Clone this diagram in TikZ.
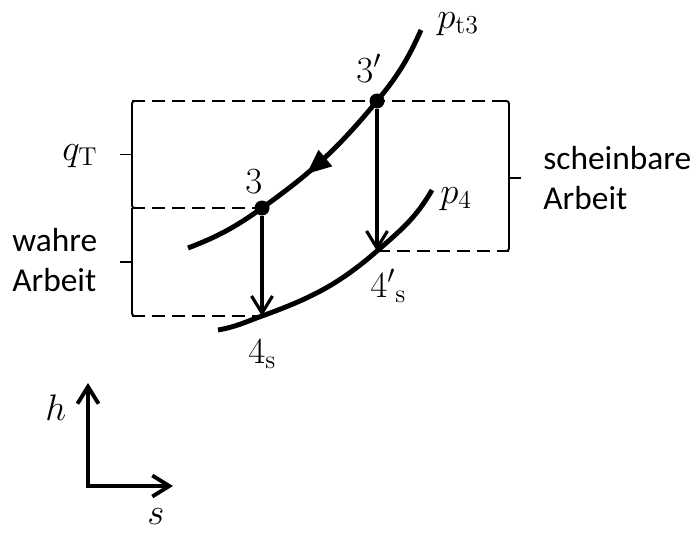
\RequirePackage{fix-cm}
\documentclass[tikz,border=0pt]{standalone}
\usepackage[no-math]{fontspec}
\newfontfamily\carlito{Carlito}
\usepackage{tikz}
\usetikzlibrary{arrows.meta, decorations.markings}

\begin{document}
\begin{tikzpicture}[
  >={Straight Barb[length=3.4mm,width=4.2mm]},
  curve/.style={line width=2.8pt},
  drop/.style={->, line width=1.8pt},
  axis/.style={<->, line width=2.2pt},
  guide/.style={dash pattern=on 2.6mm off 1.4mm, line width=1.3pt},
  bracket/.style={line width=1.1pt, rounded corners=1.5pt},
  dot/.style={circle, fill, inner sep=0pt, minimum size=3mm},
  lbl/.style={font=\fontsize{21}{25}\selectfont, inner sep=0pt, anchor=base west},
  txt/.style={font=\carlito\fontsize{19}{23}\selectfont, align=left, inner sep=0pt, anchor=west},
  flow/.style={postaction={decorate}, decoration={markings,
    mark=at position 0.57 with {\arrow{Triangle[length=5mm,width=4mm]}}}}
]
\useasboundingbox (0,0) rectangle (13.92,10.64);

% State points
\node[dot] (p3) at (5.24,6.48) {};
\node[dot] (p3s) at (7.54,8.62) {};
\coordinate (s4) at (5.24,4.32);
\coordinate (s4p) at (7.54,5.62);

% Isobar ends
\coordinate (u0) at (3.76,5.68);
\coordinate (u1) at (8.42,10.04);
\coordinate (l0) at (4.36,4.04);
\coordinate (l1) at (8.64,6.84);

% Bracket corners
\coordinate (bl1) at (2.64,8.62);
\coordinate (bl2) at (2.64,6.48);
\coordinate (bl3) at (2.64,4.32);
\coordinate (br1) at (10.18,8.62);
\coordinate (br2) at (10.18,5.62);

% Dashed levels
\draw[guide] (bl1) -- (br1);
\draw[guide] (bl2) -- (p3.center);
\draw[guide] (bl3) -- (s4);
\draw[guide] (s4p) -- (br2);

% Brackets
\draw[bracket] ([xshift=0.8mm]bl1) -| (bl2) -- ([xshift=0.8mm]bl2);
\draw[bracket] (2.64,7.55) -- (2.40,7.55);
\draw[bracket] (bl2) |- ([xshift=0.8mm]bl3);
\draw[bracket] (2.64,5.40) -- (2.40,5.40);
\draw[bracket] ([xshift=-0.8mm]br1) -| (br2) -- ([xshift=-0.8mm]br2);
\draw[bracket] (10.18,7.08) -- (10.42,7.08);

% Isobars
\draw[curve, flow] (u1) to[out=246,in=50.5] (p3s.center)
  to[out=230.5,in=35.5] (p3.center) to[out=215.5,in=21] (u0);
\draw[curve] (l0) to[out=10,in=200] (s4)
  to[out=20,in=221] (s4p) to[out=41,in=240] (l1);

% Isentropic expansion
\draw[drop] (p3) -- (s4);
\draw[drop] (p3s) -- (s4p);

% Labels
\node[lbl] (lpt3) at (8.74,10.08) {$p_{\mathrm{t3}}$};
\node[lbl] (l3s) at (7.12,9.00) {$3'$};
\node[lbl] (l3) at (4.90,6.78) {$3$};
\node[lbl] (lp4) at (8.80,6.58) {$p_4$};
\node[lbl] (l4s) at (4.96,3.38) {$4_{\mathrm{s}}$};
\node[lbl] (l4sp) at (7.40,4.70) {${4'}_{\mathrm{s}}$};
\node[lbl] (lq) at (1.24,7.44) {$q_{\mathrm{T}}$};
\node[txt] (wahre) at (0.24,5.44) {wahre\\Arbeit};
\node[txt] (schein) at (10.86,7.08) {scheinbare\\Arbeit};

% h-s axes
\coordinate (o) at (1.76,0.92);
\draw[axis] ([yshift=2.06cm]o) |- ([xshift=1.70cm]o);
\node[lbl] (lh) at (0.90,2.24) {$h$};
\node[lbl] (ls) at (2.94,0.16) {$s$};

\end{tikzpicture}
\end{document}
